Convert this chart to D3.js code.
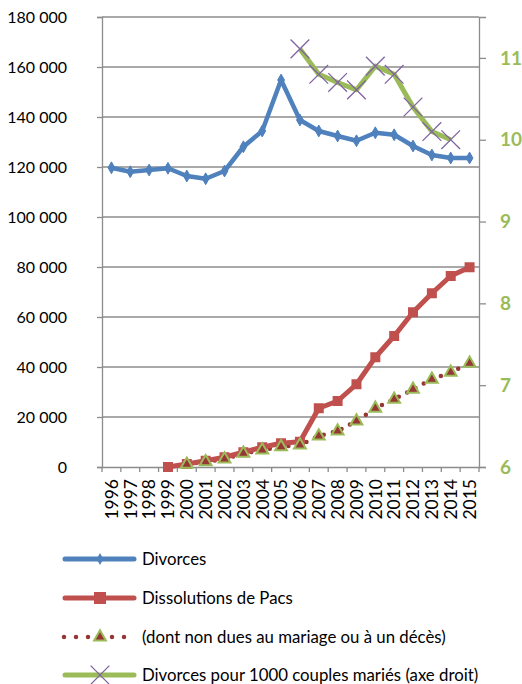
<!DOCTYPE html>
<html>
<head>
<meta charset="utf-8">
<script src="https://cdn.jsdelivr.net/npm/d3@7"></script>
<style>
body { margin: 0; background: #fff; }
text { font-family: Lato, "Open Sans", sans-serif; }
</style>
</head>
<body>
<div id="chart"></div>
<script>
var years = ["1996","1997","1998","1999","2000","2001","2002","2003","2004","2005",
  "2006","2007","2008","2009","2010","2011","2012","2013","2014","2015"];
var divorces = [119700, 118100, 118800, 119500, 116400, 115300, 118400, 128100, 134400, 154800,
  138800, 134400, 132400, 130500, 133700, 132900, 128400, 124800, 123600, 123600];
var pacs = [null, null, null, 0, 1200, 2500, 3900, 5900, 7900, 9500,
  10100, 23500, 26400, 33100, 43900, 52400, 61900, 69500, 76400, 79900];
var pacsNonMariage = [null, null, null, null, 1100, 2100, 3200, 5500, 6800, 8100,
  8800, 12400, 14400, 18400, 23500, 27100, 31100, 35100, 37900, 41500];
var tauxDivorce = [null, null, null, null, null, null, null, null, null, null,
  11.11, 10.80, 10.70, 10.61, 10.90, 10.80, 10.40, 10.10, 10.00, null];
var leftTicks = [0, 20000, 40000, 60000, 80000, 100000, 120000, 140000, 160000, 180000];
var rightTicks = [6, 7, 8, 9, 10, 11];
var legendLabels = ["Divorces", "Dissolutions de Pacs",
  "(dont non dues au mariage ou à un décès)", "Divorces pour 1000 couples mariés (axe droit)"];

var mrg = {top: 17, left: 102, right: 43, bottom: 217};
var W = 522, H = 684;
var w = W - mrg.left - mrg.right, h = H - mrg.top - mrg.bottom;

var svg = d3.select("#chart").append("svg").attr("width", W).attr("height", H);
var chart = svg.append("g").attr("transform", `translate(${mrg.left}, ${mrg.top})`);

var xScale = d3.scaleBand().domain(years).range([0, w]);
var yScale = d3.scaleLinear().domain([0, 180000]).range([h, 0]);
var y2Scale = d3.scaleLinear().domain([6, 11.5]).range([h, 0]);
var cx = function (i) { return xScale(years[i]) + xScale.bandwidth() / 2; };
var fmt = function (v) { return d3.format(",")(v).replace(/,/g, " "); };

// gridlines
chart.append("g").selectAll("line").data(leftTicks.slice(1)).enter().append("line")
  .attr("x1", 0).attr("x2", w)
  .attr("y1", function (d) { return yScale(d); }).attr("y2", function (d) { return yScale(d); })
  .attr("stroke", "#8c8c8c").attr("stroke-width", 1.3);

// left axis
var yAx = chart.append("g").call(d3.axisLeft(yScale).tickValues(leftTicks).tickFormat(fmt).tickSize(5).tickPadding(30));
yAx.selectAll("text").style("font-size", "16px").attr("fill", "#000");
yAx.selectAll("line,path").attr("stroke", "#8c8c8c").attr("stroke-width", 1.3);

// right axis
var y2Ax = chart.append("g").attr("transform", `translate(${w},0)`)
  .call(d3.axisRight(y2Scale).tickValues(rightTicks).tickFormat(d3.format("d")).tickSize(7).tickPadding(14));
y2Ax.selectAll("text").style("font-size", "19px").style("font-weight", "bold").attr("fill", "#9bbb59");
y2Ax.selectAll("line,path").attr("stroke", "#8c8c8c").attr("stroke-width", 1.3);

// bottom axis: ticks at band boundaries
var xAx = chart.append("g").attr("transform", `translate(0,${h})`)
  .call(d3.axisBottom(xScale).tickSize(0).tickPadding(0));
xAx.select("path").attr("stroke", "#8c8c8c").attr("stroke-width", 1.3);
xAx.selectAll(".tick text").style("font-size", "17.5px").attr("fill", "#000")
  .attr("transform", "rotate(-90)").attr("text-anchor", "end")
  .attr("x", -12).attr("y", 0).attr("dy", "0.36em");
xAx.append("g").selectAll("line").data(years.concat(["end"])).enter().append("line")
  .attr("x1", function (d, i) { return i * xScale.bandwidth(); })
  .attr("x2", function (d, i) { return i * xScale.bandwidth(); })
  .attr("y1", 0).attr("y2", 5).attr("stroke", "#8c8c8c").attr("stroke-width", 1.3);

function lineFor(values, scale) {
  return d3.line()
    .defined(function (d) { return d != null; })
    .x(function (d, i) { return cx(i); })
    .y(function (d) { return scale(d); })(values);
}

// dotted series
chart.append("path").attr("d", lineFor(pacsNonMariage, yScale))
  .attr("fill", "none").attr("stroke", "#953735").attr("stroke-width", 4.5)
  .attr("stroke-linecap", "round").attr("stroke-dasharray", "0 9.4");
// red series
chart.append("path").attr("d", lineFor(pacs, yScale))
  .attr("fill", "none").attr("stroke", "#c0504d").attr("stroke-width", 5).attr("stroke-linejoin", "round");
// blue series
chart.append("path").attr("d", lineFor(divorces, yScale))
  .attr("fill", "none").attr("stroke", "#4f81bd").attr("stroke-width", 4.5).attr("stroke-linejoin", "round");
// green series
chart.append("path").attr("d", lineFor(tauxDivorce, y2Scale))
  .attr("fill", "none").attr("stroke", "#9bbb59").attr("stroke-width", 5).attr("stroke-linejoin", "round");

var diamond = d3.symbol().type(d3.symbolDiamond).size(40);
var tri = d3.symbol().type(d3.symbolTriangle).size(60);
var cross = d3.symbol().type(d3.symbolX || d3.symbolTimes).size(230);

function markers(values, scale, sym, fill, stroke, sw) {
  chart.append("g").selectAll("path")
    .data(values.map(function (v, i) { return {v: v, i: i}; }).filter(function (d) { return d.v != null; }))
    .enter().append("path")
    .attr("d", sym)
    .attr("transform", function (d) { return `translate(${cx(d.i)},${scale(d.v)})`; })
    .attr("fill", fill).attr("stroke", stroke).attr("stroke-width", sw);
}
markers(divorces, yScale, diamond, "#4f81bd", "#4f81bd", 1);
chart.append("g").selectAll("rect")
  .data(pacs.map(function (v, i) { return {v: v, i: i}; }).filter(function (d) { return d.v != null; }))
  .enter().append("rect")
  .attr("x", function (d) { return cx(d.i) - 5; }).attr("y", function (d) { return yScale(d.v) - 5; })
  .attr("width", 10).attr("height", 10).attr("fill", "#c0504d");
markers(pacsNonMariage, yScale, tri, "#953735", "#9bbb59", 2);
markers(tauxDivorce, y2Scale, cross, "none", "#8064a2", 1.3);

// legend
var leg = svg.append("g");
var legY = [559, 598, 637, 675];
legendLabels.forEach(function (lab, k) {
  var g = leg.append("g").attr("transform", `translate(0,${legY[k]})`);
  if (k === 2) {
    g.append("line").attr("x1", 64).attr("x2", 136).attr("y1", 0).attr("y2", 0)
      .attr("stroke", "#953735").attr("stroke-width", 4.5).attr("stroke-linecap", "round")
      .attr("stroke-dasharray", "0 12");
  } else {
    g.append("line").attr("x1", 65).attr("x2", 134).attr("y1", 0).attr("y2", 0)
      .attr("stroke", ["#4f81bd", "#c0504d", null, "#9bbb59"][k]).attr("stroke-width", 5)
      .attr("stroke-linecap", "round");
  }
  var s = g.append("path").attr("transform", "translate(100,0)");
  if (k === 0) s.attr("d", diamond).attr("fill", "#4f81bd");
  if (k === 1) { g.append("rect").attr("x", 94).attr("y", -6).attr("width", 12).attr("height", 12).attr("fill", "#c0504d"); }
  if (k === 2) s.attr("d", tri).attr("fill", "#953735").attr("stroke", "#9bbb59").attr("stroke-width", 2);
  if (k === 3) s.attr("d", cross).attr("fill", "none").attr("stroke", "#8064a2").attr("stroke-width", 1.3);
  g.append("text").attr("x", 142).attr("y", 0).attr("dy", "0.35em")
    .style("font-size", "16.8px").attr("fill", "#000").text(lab);
});
</script>
</body>
</html>
